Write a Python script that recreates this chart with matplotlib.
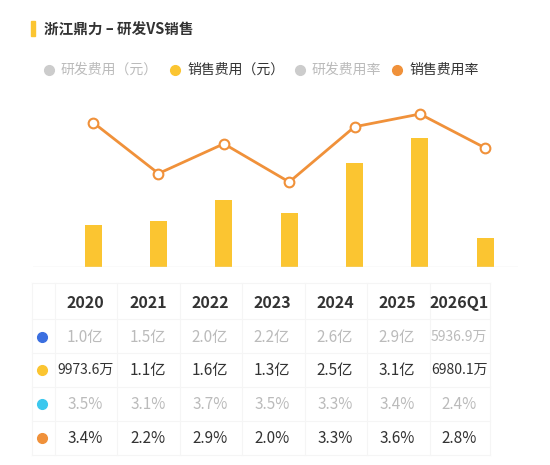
import matplotlib
matplotlib.use("Agg")
import matplotlib.pyplot as plt

plt.rcParams['font.family'] = ['Noto Sans CJK SC', 'DejaVu Sans']

years = ["2020", "2021", "2022", "2023", "2024", "2025", "2026Q1"]
rd_labels = ["1.0亿", "1.5亿", "2.0亿", "2.2亿", "2.6亿", "2.9亿", "5936.9万"]
sales = [0.99736, 1.1, 1.6, 1.3, 2.5, 3.1, 0.69801]  # 亿元
sales_labels = ["9973.6万", "1.1亿", "1.6亿", "1.3亿", "2.5亿", "3.1亿", "6980.1万"]
rd_rate_labels = ["3.5%", "3.1%", "3.7%", "3.5%", "3.3%", "3.4%", "2.4%"]
sales_rate = [3.4, 2.2, 2.9, 2.0, 3.3, 3.6, 2.8]
sales_rate_labels = ["3.4%", "2.2%", "2.9%", "2.0%", "3.3%", "3.6%", "2.8%"]

W, H = 550, 465
fig = plt.figure(figsize=(5.5, 4.65), dpi=100)
fig.patch.set_facecolor("white")

YEL = "#FBC531"
ORG = "#F0913A"

ax = fig.add_axes([33/W, 1-267/H, 485/W, 167/H])
x = list(range(len(years)))
ax.bar(x, sales, width=0.26, color=YEL, zorder=2)
ax.set_xlim(-0.92, 6.5)
ax.set_ylim(0, 4.01)
for s in ax.spines.values():
    s.set_visible(False)
ax.axhline(0, color="#e6e6e6", lw=1)
ax.set_xticks([]); ax.set_yticks([])
ax2 = ax.twinx()
ax2.plot(x, sales_rate, color=ORG, lw=2, marker="o", markersize=7,
         markerfacecolor="white", markeredgecolor=ORG, markeredgewidth=1.5, zorder=3)
ax2.set_ylim(0, 3.93)
for s in ax2.spines.values():
    s.set_visible(False)
ax2.set_yticks([])

ov = fig.add_axes([0, 0, 1, 1])
ov.set_xlim(0, W); ov.set_ylim(H, 0); ov.axis("off")
ov.add_patch(plt.Rectangle((31, 21), 4, 15, color=YEL))
ov.text(44, 29, "浙江鼎力 – 研发VS销售", fontsize=10.5, fontweight="bold",
        color="#333333", va="center", ha="left")

leg = [(49, "研发费用（元）", "#cccccc", "#bbbbbb"),
       (175, "销售费用（元）", YEL, "#333333"),
       (300, "研发费用率", "#cccccc", "#bbbbbb"),
       (397, "销售费用率", ORG, "#333333")]
for lx, t, c, tc in leg:
    ov.plot(lx, 70, "o", color=c, markersize=7)
    ov.text(lx + 12, 70, t, fontsize=10, color=tc, va="center", ha="left")

cols = [85, 148, 210, 272, 335, 397, 459]
rows = [303, 337, 370, 404, 438]
vlines = [55, 117, 180, 242, 305, 367, 430, 490]
hlines = [283, 319, 353, 387, 421, 455]
GC = "#f5f5f5"
for v in vlines:
    ov.plot([v, v], [283, 455], color=GC, lw=0.8)
for h in hlines:
    ov.plot([32, 490], [h, h], color=GC, lw=0.8)
ov.plot([32, 32], [283, 455], color=GC, lw=0.8)

for cx, y in zip(cols, years):
    ov.text(cx, rows[0], y, fontsize=11.5, fontweight="bold", color="#333333",
            ha="center", va="center")
data_rows = [(rd_labels, "#3B6FE0", "#bbbbbb"),
             (sales_labels, YEL, "#333333"),
             (rd_rate_labels, "#3CC8EE", "#bbbbbb"),
             (sales_rate_labels, ORG, "#333333")]
for (labels, dc, tc), ry in zip(data_rows, rows[1:]):
    ov.plot(42, ry, "o", color=dc, markersize=7)
    for cx, lab in zip(cols, labels):
        fs = 10 if len(lab) > 5 else 11
        ov.text(cx, ry, lab, fontsize=fs, color=tc, ha="center", va="center")

fig.savefig("out.png", dpi=100, facecolor="white")
